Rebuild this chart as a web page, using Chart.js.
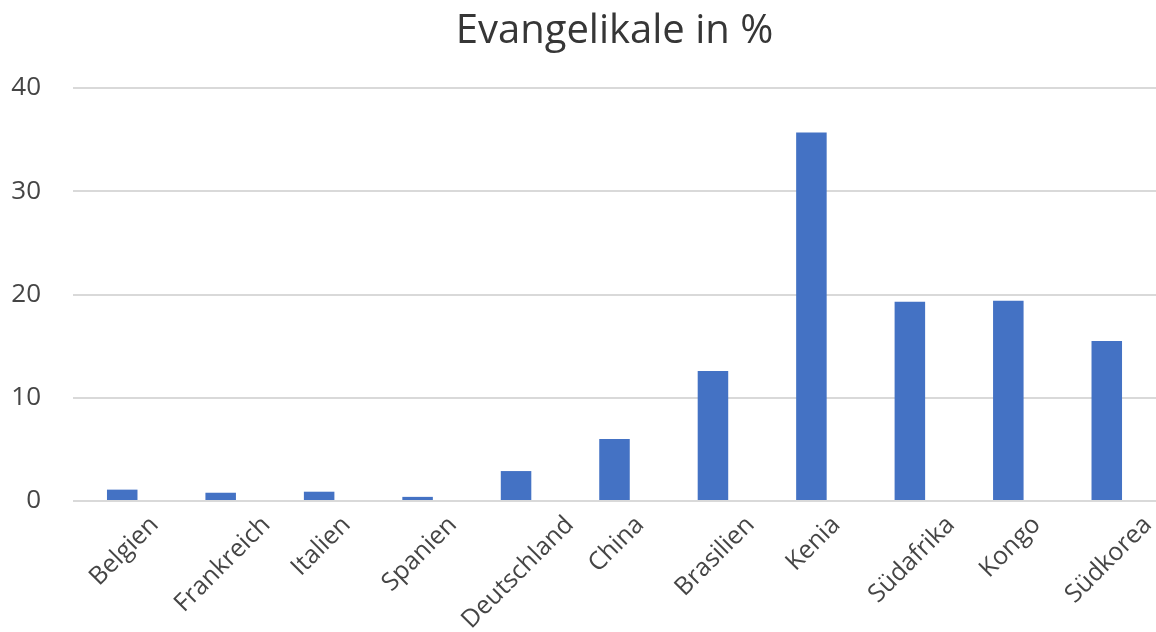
<!DOCTYPE html>
<html>
<head>
<meta charset="utf-8">
<script src="https://cdn.jsdelivr.net/npm/chart.js@4"></script>
<style>
    html, body { margin: 0; padding: 0; background: #ffffff; }
    #wrap { width: 1156px; height: 632px; }
</style>
</head>
<body>
<div id="wrap"><canvas id="evChart"></canvas></div>
<script>
// Chart data
const countries = ['Belgien', 'Frankreich', 'Italien', 'Spanien', 'Deutschland', 'China',
    'Brasilien', 'Kenia', 'Südafrika', 'Kongo', 'Südkorea'];
const evangelicalShare = [1.1, 0.8, 0.9, 0.4, 2.9, 6.0, 12.6, 35.7, 19.3, 19.4, 15.5];
const yTicks = [0, 10, 20, 30, 40];

const fontFamily = "'Open Sans', sans-serif";
const textColor = '#454545';
const xLabelSize = 25;

// Excel centres 45° labels on the tick instead of hanging them from their end,
// so the category labels are drawn here at the x scale's tick pixels.
const centredTickLabels = {
    id: 'centredTickLabels',
    afterDraw(chart) {
        const xScale = chart.scales.x;
        const c = chart.ctx;
        const k = Math.SQRT1_2;
        c.save();
        c.font = xLabelSize + 'px ' + fontFamily;
        c.fillStyle = textColor;
        c.textAlign = 'center';
        c.textBaseline = 'middle';
        countries.forEach((name, i) => {
            const w = c.measureText(name).width;
            const x = xScale.getPixelForTick(i) + 2;
            const y = xScale.top + 11 + (w / 2 + xLabelSize / 2) * k;
            c.save();
            c.translate(x, y);
            c.rotate(-Math.PI / 4);
            c.fillText(name, 0, 0);
            c.restore();
        });
        c.restore();
    }
};

const ctx = document.getElementById('evChart');
new Chart(ctx, {
    type: 'bar',
    data: {
        labels: countries,
        datasets: [{
            label: 'Evangelikale in %',
            data: evangelicalShare,
            backgroundColor: '#4472C4',
            borderWidth: 0,
            barPercentage: 0.31,
            categoryPercentage: 1
        }]
    },
    options: {
        responsive: true,
        maintainAspectRatio: false,
        animation: false,
        plugins: {
            legend: { display: false },
            tooltip: { enabled: false },
            title: {
                display: true,
                fullSize: false, // centre over the plot area, like Excel
                text: 'Evangelikale in %',
                color: '#363636',
                font: { family: fontFamily, size: 40, weight: 'normal' },
                padding: { top: 8, bottom: 32 }
            }
        },
        scales: {
            x: {
                grid: { display: false, drawTicks: false },
                border: { display: false },
                ticks: { display: false },
                afterFit: function(scale) {
                    scale.height = 131;
                }
            },
            y: {
                min: 0,
                max: 40,
                afterBuildTicks: function(scale) {
                    scale.ticks = yTicks.map(v => ({ value: v }));
                },
                grid: {
                    color: '#d9d9d9',
                    lineWidth: 2,
                    drawTicks: false
                },
                border: { display: false },
                ticks: {
                    color: textColor,
                    font: { family: fontFamily, size: 26 },
                    padding: 32
                },
                afterFit: function(scale) {
                    scale.width = 73;
                }
            }
        }
    },
    plugins: [centredTickLabels]
});
</script>
</body>
</html>
